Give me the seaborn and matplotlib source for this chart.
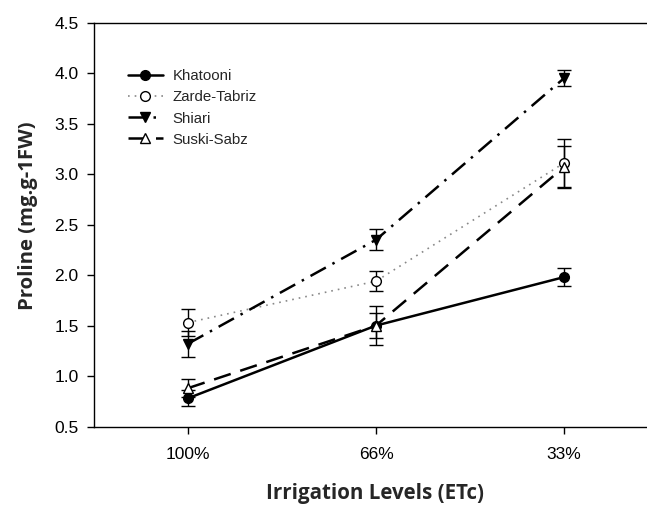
import matplotlib
matplotlib.use("Agg")
import matplotlib.pyplot as plt
import numpy as np
import pandas as pd
import seaborn as sns

levels = ["100%", "66%", "33%"]
khatooni = [0.78, 1.50, 1.98]
khatooni_se = [0.08, 0.12, 0.09]
zarde = [1.53, 1.94, 3.11]
zarde_se = [0.13, 0.10, 0.24]
shiari = [1.32, 2.35, 3.95]
shiari_se = [0.13, 0.105, 0.08]
suski = [0.88, 1.50, 3.07]
suski_se = [0.09, 0.19, 0.21]

series = [
    ("Khatooni", khatooni, khatooni_se, "o", "black", "-", "black", 1.8),
    ("Zarde-Tabriz", zarde, zarde_se, "o", "white", (0, (1, 3)), "#888888", 1.2),
    ("Shiari", shiari, shiari_se, "v", "black", (0, (7, 3, 1, 3)), "black", 1.8),
    ("Suski-Sabz", suski, suski_se, "^", "white", (0, (7, 4)), "black", 1.8),
]

sns.set_style("ticks")
plt.rcParams['font.family'] = ['Liberation Sans', 'DejaVu Sans']

fig = plt.figure(figsize=(6.47, 5.05), dpi=100)
ax = fig.add_axes([0.1453, 0.1554, 0.8717, 0.7996])

for name, vals, se, mk, fc, ls, lc, lw in series:
    df = pd.DataFrame({'level': levels, 'proline': vals})
    ax.errorbar(np.arange(3), vals, yerr=se, fmt='none', ecolor='black',
                elinewidth=1.0, capsize=5, capthick=1.0, zorder=2)
    sns.lineplot(data=df, x='level', y='proline', ax=ax, color=lc, linestyle=ls,
                 linewidth=lw, marker=mk, markersize=7, markerfacecolor=fc,
                 markeredgecolor='black', markeredgewidth=1.0, label=name,
                 sort=False, zorder=3)

ax.set_xlim(-0.5, 2.5)
ax.set_ylim(0.5, 4.5)
ax.set_yticks(np.arange(0.5, 4.51, 0.5))
ax.set_yticklabels([f"{v:.1f}" for v in np.arange(0.5, 4.51, 0.5)])
ax.tick_params(axis='both', labelsize=12.5, direction='out', length=5, width=1,
               colors='black')
ax.tick_params(axis='x', pad=10)
ax.tick_params(axis='y', pad=6)
ax.spines['right'].set_visible(False)
for s in ['left', 'bottom', 'top']:
    ax.spines[s].set_linewidth(1.0)
    ax.spines[s].set_color('black')

ax.set_xlabel("Irrigation Levels (ETc)", fontsize=14.8, fontweight='bold',
              family=['Open Sans', 'DejaVu Sans'])
ax.set_ylabel("Proline (mg.g-1FW)", fontsize=14.6, fontweight='bold',
              family=['Open Sans', 'DejaVu Sans'])
ax.xaxis.set_label_coords(0.498, -0.165)
ax.yaxis.set_label_coords(-0.117, 0.521)
ax.xaxis.label.set_va('center')
ax.yaxis.label.set_va('center')

ax.legend(loc='upper left', bbox_to_anchor=(0.05, 0.90), frameon=False,
          fontsize=10.8, handlelength=2.3, handletextpad=0.65, labelspacing=0.48,
          borderaxespad=0)

fig.savefig("out.png", dpi=100)
